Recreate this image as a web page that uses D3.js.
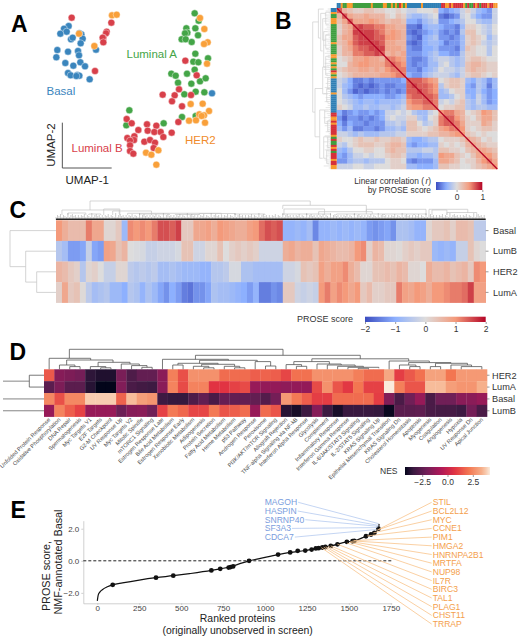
<!DOCTYPE html>
<html>
<head>
<meta charset="utf-8">
<script src="https://cdnjs.cloudflare.com/ajax/libs/d3/7.8.5/d3.min.js"></script>
<style>
  body { margin: 0; background: #fff; }
  text { font-family: "Liberation Sans", Arial, sans-serif; fill: #333; }
</style>
</head>
<body>
<script>
// Panel A: UMAP coordinates
const basalPts = [[2.06,.78],[1.92,.86],[1.81,1.01],[2.0,.95],[2.13,1.18],[2.18,1.13],[2.44,1.03],[2.38,1.0],[2.48,1.16],[2.42,1.3],[1.72,1.5],[2.04,1.55],[2.34,1.53],[2.37,1.66],[1.69,1.72],[1.96,1.89],[2.41,1.87],[2.2,1.97],[2.55,1.99],[2.04,2.19],[2.12,2.26],[2.32,2.25],[2.38,2.27],[2.29,2.28],[2.69,2.38],[2.88,1.49],[6.36,2.8]];
const lumAPts = [[5.84,.4],[5.96,.62],[5.59,.85],[5.86,.85],[5.62,.98],[5.55,1.0],[5.94,1.06],[5.45,1.18],[5.57,1.18],[5.75,1.26],[5.86,1.61],[6.24,1.75],[5.8,1.85],[5.95,1.87],[5.84,2.09],[5.14,2.21],[5.27,2.27],[5.61,2.21],[5.34,2.48],[5.74,2.51],[6.0,2.44],[6.17,2.35],[5.87,2.75],[6.13,2.77],[5.53,2.83],[3.88,3.31],[3.79,3.76],[4.91,3.7],[5.46,3.51],[5.87,3.48]];
const lumBPts = [[2.15,.53],[3.34,.68],[3.2,.95],[3.18,1.0],[3.1,1.13],[3.08,1.13],[3.1,1.27],[2.85,2.13],[5.56,1.82],[5.9,2.26],[5.37,2.68],[5.24,2.86],[4.88,2.84],[5.16,3.04],[5.46,3.19],[5.73,2.85],[5.35,3.66],[5.15,3.98],[3.8,3.57],[3.95,3.7],[4.15,3.9],[4.41,3.73],[4.69,3.77],[4.43,3.92],[4.63,3.96],[4.82,3.96],[4.9,4.11],[3.82,4.14],[4.03,4.09],[4.02,4.2],[3.9,4.22],[3.9,4.36],[4.33,4.25],[4.5,4.2],[4.65,4.28],[4.61,4.44],[3.9,4.53],[4.0,4.61]];
const her2Pts = [[2.37,1.01],[2.83,1.38],[3.36,.46],[3.5,.44],[6.0,.54],[6.13,.87],[6.23,1.27],[6.12,1.32],[6.21,1.91],[5.72,3.12],[6.08,3.11],[6.27,3.33],[5.98,3.43],[6.12,3.46],[6.05,3.48],[5.67,3.62],[5.88,3.61],[6.15,3.68],[4.38,4.58],[4.54,4.64],[4.75,4.51],[4.69,4.94]];

// Panel B: correlation in tenths, lower triangle, one sample block per row
const corrRows = [
  [7],
  [3,7],
  [2,4,7],
  [1,3,4,7],
  [1,3,4,8,8],
  [2,4,4,7,8,8],
  [2,3,5,7,8,8,8],
  [1,3,4,6,7,7,8,8],
  [1,3,3,6,6,7,7,8,7],
  [0,1,2,4,4,5,4,4,3,6],
  [0,0,3,4,5,5,4,4,4,6,7],
  [1,2,3,3,4,4,3,4,3,5,6,6],
  [0,1,2,3,3,3,3,3,4,4,5,6,6],
  [-1,-2,-4,-6,-6,-5,-6,-5,-5,-5,-5,-5,-4,7],
  [-1,-3,-4,-6,-7,-6,-7,-6,-5,-6,-6,-5,-5,7,8],
  [0,-3,-5,-7,-6,-7,-6,-6,-5,-6,-5,-6,-5,7,7,8],
  [0,-2,-3,-4,-5,-4,-4,-4,-4,-5,-5,-4,-3,6,7,7,7],
  [0,-1,-2,-3,-4,-3,-3,-4,-3,-3,-3,-3,-2,5,6,6,7,7],
  [1,0,-1,-3,-3,-2,-3,-3,-2,-2,-3,-2,-1,4,5,5,6,6,6],
  [-4,-6,-5,-4,-5,-5,-4,-5,-4,-1,-1,0,-1,0,-2,-3,-3,-1,0,5],
  [-5,-7,-5,-5,-6,-5,-6,-5,-4,-1,0,-1,-1,1,1,-2,-3,0,1,6,7],
  [-4,-6,-4,-5,-5,-6,-5,-5,-5,-2,-2,-1,-2,2,2,0,-2,-1,1,6,7,7],
  [-3,-5,-3,-6,-6,-5,-5,-6,-5,-3,-3,-2,-3,2,2,1,0,1,2,4,5,6,6],
  [-1,-1,-2,-3,-2,-3,-3,-3,-2,-2,-2,-1,-1,1,1,1,1,2,2,3,3,4,5,5],
  [1,0,0,1,2,1,1,2,1,1,2,2,1,-3,-4,-4,-3,-2,-2,0,1,1,1,2,4],
  [-1,-2,0,1,2,2,2,1,1,2,3,3,2,-4,-5,-4,-4,-3,-3,1,0,1,0,1,3,4],
  [-3,-4,-2,0,0,1,1,0,0,2,3,2,2,-2,-2,-2,-1,-1,-2,2,2,1,1,0,2,3,4],
  [-4,-5,-3,-1,-1,0,-1,0,0,1,2,2,1,-3,-3,-4,-3,-3,-2,5,4,4,2,1,0,2,4,5],
  [-5,-5,-3,-2,-2,-3,-2,-2,-2,0,1,1,0,-5,-6,-5,-5,-5,-3,4,4,3,2,0,1,1,3,5,6],
  [-1,-1,-1,0,0,-1,-1,0,0,0,1,1,1,-3,-3,-4,-4,-4,-3,2,2,1,1,0,0,1,2,3,4,5]
];
const sampleTypes = 'BBOGGOOOGGGGGGGGGOGGGGGOOGGOGOGROGOBBBBBBBOBBBBBBBBBRROORORRRRROGRGGRORGRRRORROOR'.slice(0, 80).split('');
const typeColors = { B: '#2f7fb5', G: '#3f9e3f', R: '#d5303a', O: '#f79a2e' };
// dendrogram links: [posA, posB, height, heightA, heightB]
const corrLinks = [[2.6,19.4,18,12.3,15.7],[.2,5.6,12.3,7,10],[1,8,10,5,8],[2,6,8,3,5],[.8,3,5,0,2],[5,7.5,5,1,2],[4.4,11,7,3,5],[9,12.5,5,1,3],
  [11,16,8,2,3],[13,15,3,0,1],[15,17.5,4,1,2],[15,24,15.7,8,11],[19,28,11,6,8],[19,21.5,6,2,3],[21,23,3,0,1],[24,28,7,3,4],[24,26,3,0,1],[26.5,29,4,1,2]];

// Panel C: PROSE score per protein cluster
const proteomeRows = ['Basal', 'LumB', 'HER2', 'LumA'];
const proseBasal = [1,.7,.5,.5,.5,1.2,.8,.8,.1,.1,.3,-.8,1.1,1,1.1,1,1.2,1.5,1.5,1.4,1.6,.3,.3,.8,.8,.9,.7,1,.9,.8,.7,.7,.9,1,1.3,1.5,1.4,1.5,-.9,-.9,-.8,-.9,-.7,-1.4,-.9,-.9,-.8,-.9,-.8,-.9,-.8,-.9,-1.2,-1.3,-1.2,-1.1,-1.3,-.6,-.6,-.7,-.9,-.9,.1,.3,.3,.4,.2,.5,.5,.4,-.4,-.4];
const proseLumB = [-.5,-.7,-1.2,-1.2,-1.1,-.3,-1.1,-1.2,.9,.8,.4,.6,0,-.05,-.1,-.3,-.3,-.2,-.2,-.2,-.1,.4,.4,-.2,-.2,.1,.1,.4,0,.2,.3,.2,.3,.2,-.2,-.2,-.2,-.2,.7,.8,.6,.7,.7,.4,.8,.7,.6,.5,.5,.6,1,1.1,.2,.6,.5,.1,.1,.05,.2,.3,.2,.3,.3,-.8,-.9,-.8,-.9,-.3,-.3,.4,.1,0];
const proseHer2 = [.6,.5,.3,.2,-.5,.1,.2,0,-.3,-.3,.1,.1,-.4,-.5,-.4,-.5,-.4,-.7,-.7,-.6,-.7,-.8,-.8,-.8,-.9,-.9,-.5,-.5,-.4,-.1,-.1,-.6,-.6,-.7,-.7,-.7,-.7,-.7,-.2,-.2,-.1,.4,.3,.4,.9,.7,.9,.9,1.1,.7,.5,.1,.1,.4,.4,.5,.4,.6,.5,.1,.1,0,.7,.5,.5,.6,.4,.5,.6,.3,1.1,1];
const proseLumA = [.2,.8,.3,.4,.05,-.4,-.7,-.6,-.5,-.8,-.8,-1,-.5,-.6,-.9,-.6,-.8,-1.1,-1.3,-1,-1.2,-1.5,-1.6,-1.3,-1.3,-1.1,-.6,-.7,-.7,-.8,-.9,-1,-1.2,-.9,-1.5,-1.5,-1.3,-1.4,.3,.3,-.2,-.3,-.2,-.3,1,1.2,.9,1.1,1,.8,1,.3,.5,.2,.2,.3,.3,1.2,.9,.8,1,.9,.7,1,1,1.1,1.2,1.2,1.3,1.6,.9,.9];
const proseColLinks = [[5.7,42.6,19,10,14.7],[1,10.6,10,5,6],[8,10.7,11,5,5],[9.5,16,9,5,5],[12,27.7,6.7,5,5],[14,19,6,5,5],[20,24,5.5,5,5],[24,30,6.5,5,5],[30,35,6,5,5],[2,5,7,5,5],[5.5,7.5,6,5,5],
  [38,52,14.7,11,8.3],[38.2,45,11,5,5],[44,53,8.3,5,6],[52,62,10.7,6,5],[62.5,69,10.7,5,7],[63,65.5,10,5,5],[65.5,70.5,7.5,5,5],[38,42,6,5,5],[42,46,6,5,5],[47,50,6,5,5],[50,55,6,5,5],[55,60,6,5,5],[60,62,6,5,5]];
const proseRowLinks = [[2,3,19.3,0,0],[1,2.5,30.3,0,19.3],[0,1.75,46,0,30.3]];
const leafHeights = [3,5,4,6,3,5,4,3,7,3,5,6,4,5,3,5];
const corrLeafHeights = [3,5,2,6,4,3,7,2,5,4,6,3];

// Panel D: NES per hallmark gene set
const hallmarks = ['Unfolded Protein Response','Oxidative Phosphorylation','DNA Repair','Spermatogenesis','Myc Targets V1','E2F Targets','G2-M Checkpoint','UV Response Up','Myc Targets V2','Mitotic Spindle','mTORC1 Signaling','Estrogen Response Late','Bile Acid Metabolism','Estrogen Response Early','Xenobiotic Metabolism','Adipogenesis','Protein Secretion','Fatty Acid Metabolism','Heme Metabolism','p53 Pathway','Androgen Response','Peroxisome','PI3K/AKT/mTOR Signaling','Allograft Rejection','TNF-alpha Signaling via NF-kB','Interferon Alpha Response','Glycolysis','Complement','Inflammatory Response','Interferon Gamma Response','IL-6/JAK/STAT3 Signaling','IL-2/STAT5 Signaling','KRAS Signaling Up','Epithelial Mesenchymal Transition','KRAS Signaling Dn','Cholesterol Homeostasis','Apoptosis','Myogenesis','Coagulation','Angiogenesis','Hypoxia','UV Response Dn','Apical Junction'];
const nesRows = ['HER2', 'LumA', 'Basal', 'LumB'];
const nesHer2 = [1.5,-1.6,-1.8,-2,-3.6,-3.8,-3.8,-1.9,-2.9,-2.4,-2.4,-1.5,2.3,1.3,2.7,2.7,2.7,1.9,1.9,1.9,1.6,1.7,1.6,1.1,2,2,2.7,2.7,2.7,2.7,2.3,1.9,1.9,3.2,.9,1.5,2,3.1,3.1,2.1,2.9,2.9,2.9];
const nesLumA = [-2.6,-1.8,-2.6,-2.6,-3.7,-4.2,-4.2,-1.7,-3,-3.2,-3.3,-1.5,2.4,1.2,2.4,2.4,.7,.7,1,1.2,-1.2,-1.3,-1.3,-1.4,-1.3,-1.3,1.2,2.7,1.4,.8,2.1,1,1,4.2,2.3,1.4,1.4,3.6,3.6,3,2.8,2.8,3.4];
const nesBasal = [2.5,1.3,2.5,2.5,3.8,3.8,3.8,1.7,3.6,3,2.8,-3.3,-3.5,-3.5,-2.9,-2.4,-3,-2.3,-2.4,-2.4,-2.4,-2.8,-2,2.9,2.2,1.6,.9,.9,1.9,1.9,1.9,1.9,.9,-1.7,-3,-2.1,-1.2,-3,-2.1,-2.1,-1.5,-1.5,-1.2];
const nesLumB = [-1.2,2.4,1.6,1,-1.2,-1.2,-1.2,-2.2,-1.6,-1.5,-2.1,1,2.2,1.8,1.1,1.1,2.2,1.4,1.6,1.9,-1.2,1.9,1.4,-3.7,-3.9,-3.3,-1.6,-3.3,-3.9,-3.4,-3.4,-3.4,-3.5,-4.1,-2.6,-2.6,-2.5,-3,-3.1,-3.1,-3.3,-2,-3];
const nesColLinks = [[1.96,22.7,20,11,14],[0,4.03,11,0,9.3],[1.7,6.2,9.3,4.3,7],[1,2.5,4.3,0,2.7],[2,3,2.7,0,0],[4.75,7.85,7,2.7,5.3],[4,5.5,2.7,0,1.5],[5,6,1.5,0,0],[7,8.75,5.3,0,3.7],[8,9.5,3.7,0,2],[9,10,2,0,0],
  [14.2,30.2,14,10,10.5],[11,17.4,10,0,9],[14.6,20.2,9,6,7.7],[12.5,16.4,6,4.3,5],[12,13,4.3,0,0],[14.8,18,5,3,3],[14,15.5,3,0,1.5],[15,16,1.5,0,0],[17,18.5,3,0,1.5],[18,19,1.5,0,0],[20,21.5,7.7,0,3.3],[21,22,3.3,0,0],
  [25.5,34.9,10.5,7.7,8.3],[23.75,27.2,7.7,4.7,5.3],[23,24.5,4.7,0,3],[24,25,3,0,0],[26,28.35,5.3,0,4.3],[27,29.7,4.3,0,3],[28,30.5,3,0,2],[29,32,2,0,1],[30,31,1,0,0],
  [33,36.9,8.3,0,6.7],[34.9,39,6.7,4.3,6],[34,35.6,4.3,0,2.7],[35,36,2.7,0,0],[37.5,40.6,6,2.7,4.3],[37,38,2.7,0,0],[39,41,4.3,0,2.7],[40,42,2.7,0,0]];
const nesRowLinks = [[0,1,14.7,0,0]];

// Panel E: ranked proteins, curve and highlighted hits
const curveRanks  = [0,5,15,30,60,92,150,250,350,453,550,680,733,800,850,905,960,1078,1150,1240,1303,1392,1488,1532,1602,1652,1676,1680];
const curveScores = [-2.5,-2.15,-1.95,-1.8,-1.62,-1.5,-1.38,-1.2,-1.05,-.93,-.8,-.6,-.5,-.36,-.18,0,.12,.39,.52,.64,.77,.93,1.18,1.24,1.53,1.74,2,2.3];
const hitRanks  = [92,350,453,680,733,783,795,810,905,1078,1150,1195,1240,1278,1303,1320,1342,1360,1392,1432,1488,1522,1532,1602,1632,1652,1676];
const hitScores = [-1.5,-1.05,-.93,-.6,-.5,-.42,-.39,-.35,0,.39,.52,.62,.64,.7,.77,.79,.83,.86,.93,1.03,1.18,1.22,1.24,1.53,1.64,1.74,2];
const blueGenes  = ['MAGOH','HASPIN','SNRNP40','SF3A3','CDCA7'];
const blueRanks  = [1676,1676,1676,1670,1664];
const blueScores = [2.32,2.21,2.15,2.07,1.95];
const orangeGenes  = ['STIL','BCL2L12','MYC','CCNE1','PIM1','HMGA2','HNRNPA2B1','MRTFA','NUP98','IL7R','BIRC3','TAL1','PLAG1','CHST11','TRRAP'];
const orangeRanks  = [1676,1666,1646,1610,1530,1522,1510,1506,1490,1432,1392,1376,1362,1350,1336];
const orangeScores = [1.95,1.9,1.74,1.55,1.26,1.24,1.2,1.16,1.1,1.03,.93,.9,.87,.85,.82];

const svg = d3.select('body').append('svg').attr('width', 520).attr('height', 639);
const defs = svg.append('defs');

// colour maps
const corrColor = d3.scaleLinear().domain([-.8,-.4,0,.5,1]).range(['#3b4cc0','#8db0fe','#dddcdc','#f49a7b','#b40426']);
const proseColor = d3.scaleLinear().domain([-2,-1,0,1,2]).range(['#3b4cc0','#8db0fe','#dddcdc','#f49a7b','#b40426']);
const rocketStops = ['#03051a','#35193e','#701f57','#ad1759','#e13342','#f37651','#f6b48f','#faebdd'];
const nesColor = d3.scaleLinear().domain([-4.2,-3.5,-2.1,-.7,.7,2.1,3.5,4.2]).range(rocketStops);

function panelLetter(s, x, y) {
  svg.append('text').attr('x', x).attr('y', y).text(s)
    .style('font-size', '23px').style('font-weight', 'bold').style('fill', '#000');
}

function label(s, x, y, size, color, anchor) {
  return svg.append('text').attr('x', x).attr('y', y).text(s)
    .style('font-size', size + 'px').style('fill', color || '#333').attr('text-anchor', anchor || 'start');
}

// draws dendrogram links, pos and depth are scales
function drawLinks(links, pos, depth, sideways, color, lineWidth) {
  svg.append('g').selectAll('path').data(links).join('path')
    .attr('fill', 'none').attr('stroke', color).attr('stroke-width', lineWidth)
    .attr('d', function (d) {
      let pts = [[pos(d[0]), depth(d[3])], [pos(d[0]), depth(d[2])], [pos(d[1]), depth(d[2])], [pos(d[1]), depth(d[4])]];
      if (sideways) pts = pts.map(function (p) { return [p[1], p[0]]; });
      return d3.line()(pts);
    });
}

function colorbar(id, x, y, w, h, color, domain, ticks, fmt) {
  const scale = d3.scaleLinear().domain(domain).range([x, x + w]);
  const grad = defs.append('linearGradient').attr('id', id);
  d3.range(0, 1.001, .05).forEach(function (t) {
    grad.append('stop').attr('offset', t).attr('stop-color', color(domain[0] + t * (domain[1] - domain[0])));
  });
  svg.append('rect').attr('x', x).attr('y', y).attr('width', w).attr('height', h).attr('fill', 'url(#' + id + ')');
  const axis = svg.append('g').attr('transform', 'translate(0,' + (y + h) + ')')
    .call(d3.axisBottom(scale).tickValues(ticks).tickFormat(fmt).tickSize(2).tickPadding(1.5));
  axis.select('.domain').remove();
  axis.selectAll('line').attr('stroke', '#555').attr('stroke-width', .6);
  axis.selectAll('text').style('font-size', '8.5px').style('font-family', '"Liberation Sans", Arial, sans-serif').style('fill', '#333');
}

// ---------- A
panelLetter('A', 11, 32);
const umapX = d3.scaleLinear().domain([0, 7.8]).range([0, 260]);
const umapY = d3.scaleLinear().domain([0, 5.7]).range([0, 190]);
[[basalPts, '#3a85bd'], [lumAPts, '#44a547'], [lumBPts, '#d8404a'], [her2Pts, '#f9a03a']].forEach(function (s) {
  svg.append('g').selectAll('circle').data(s[0]).join('circle')
    .attr('cx', function (d) { return umapX(d[0]); })
    .attr('cy', function (d) { return umapY(d[1]); })
    .attr('r', 3.5).attr('fill', s[1]).attr('stroke', '#fff').attr('stroke-width', .4);
});
label('Basal', 46.5, 95, 11.5, '#3a85bd');
label('Luminal A', 126.5, 57.5, 11.5, '#44a547');
label('HER2', 185, 144, 11.5, '#f08c2c');
label('Luminal B', 71.5, 152, 11.5, '#d8404a');
label('UMAP-1', 65.5, 184, 11.5, '#222');
svg.append('text').attr('transform', 'translate(54.5,145) rotate(-90)').attr('text-anchor', 'middle')
  .text('UMAP-2').style('font-size', '11.5px').style('fill', '#222');
svg.append('path').attr('d', d3.line()([[umapX(1.87), umapY(3.68)], [umapX(1.87), umapY(5.04)], [umapX(3.35), umapY(5.04)]]))
  .attr('fill', 'none').attr('stroke', '#555').attr('stroke-width', 1);

// ---------- B
panelLetter('B', 275, 28.5);
const corrIdx = d3.range(corrRows.length);
const corrX = d3.scaleBand().domain(corrIdx).range([336.7, 497.3]);
const corrY = d3.scaleBand().domain(corrIdx).range([8, 169]);
const corrCells = [];
corrIdx.forEach(function (i) {
  corrIdx.forEach(function (j) {
    corrCells.push({ i: i, j: j, v: (i >= j ? corrRows[i][j] : corrRows[j][i]) / 10 });
  });
});
svg.append('g').selectAll('rect').data(corrCells).join('rect')
  .attr('x', function (d) { return corrX(d.j); })
  .attr('y', function (d) { return corrY(d.i); })
  .attr('width', corrX.bandwidth() + .3).attr('height', corrY.bandwidth() + .3)
  .attr('fill', function (d) { return corrColor(d.v); });
// r = 1 on the diagonal
svg.append('line')
  .attr('x1', corrX.range()[0]).attr('y1', corrY.range()[0])
  .attr('x2', corrX.range()[1]).attr('y2', corrY.range()[1])
  .attr('stroke', corrColor(1)).attr('stroke-width', 1.3);
const typeIdx = d3.range(sampleTypes.length);
const typeX = d3.scaleBand().domain(typeIdx).range([336.7, 497.3]);
const typeY = d3.scaleBand().domain(typeIdx).range([8, 169]);
svg.append('g').selectAll('rect').data(typeIdx).join('rect')
  .attr('x', function (d) { return typeX(d); }).attr('y', 3)
  .attr('width', typeX.bandwidth() + .2).attr('height', 5)
  .attr('fill', function (d) { return typeColors[sampleTypes[d]]; });
svg.append('g').selectAll('rect').data(typeIdx).join('rect')
  .attr('x', 330.7).attr('y', function (d) { return typeY(d); })
  .attr('width', 6).attr('height', typeY.bandwidth() + .2)
  .attr('fill', function (d) { return typeColors[sampleTypes[d]]; });
const corrDepth = d3.scaleLinear().domain([0, 18]).range([330.7, 312.7]);
drawLinks(corrLinks, d3.scaleLinear().domain([0, 30]).range([8, 169]), corrDepth, true, '#cfcfcf', .7);
svg.append('g').selectAll('line').data(typeIdx).join('line')
  .attr('x1', corrDepth(0)).attr('y1', function (d) { return typeY(d) + 1; })
  .attr('x2', function (d, i) { return corrDepth(corrLeafHeights[i % corrLeafHeights.length]); }).attr('y2', function (d) { return typeY(d) + 1; })
  .attr('stroke', '#d4d4d4').attr('stroke-width', .6);
label('Linear correlation (', 431, 184, 8.4, '#333', 'end').attr('dx', -7)
label('r', 431, 184, 8.4, '#333', 'end').attr('dx', -2.6).style('font-style', 'italic');
label(')', 431, 184, 8.4, '#333', 'end');
label('by PROSE score', 431, 192.5, 8.4, '#333', 'end');
colorbar('corrGrad', 436, 182, 46.3, 8, corrColor, [-.8, 1], [0, 1], d3.format('d'));

// ---------- C
panelLetter('C', 9.5, 218);
const proseValues = [proseBasal, proseLumB, proseHer2, proseLumA];
const proseX = d3.scaleBand().domain(d3.range(proseBasal.length)).range([56, 485.7]);
const proseY = d3.scaleBand().domain(proteomeRows).range([220.3, 302.7]);
proseValues.forEach(function (vals, r) {
  svg.append('g').selectAll('rect').data(vals).join('rect')
    .attr('x', function (d, i) { return proseX(i); })
    .attr('y', proseY(proteomeRows[r]))
    .attr('width', proseX.bandwidth() + .3).attr('height', proseY.bandwidth() + .2)
    .attr('fill', function (d) { return proseColor(d); });
});
const proseCol = d3.scaleLinear().domain([0, proseBasal.length]).range([56, 485.7]);
const proseHeight = d3.scaleLinear().domain([0, 20]).range([220, 200]);
drawLinks(proseColLinks, proseCol, proseHeight, false, '#c4c4c4', .7);
// fine leaf brackets along the top of the heatmap
const leafIdx = d3.range(0, proseBasal.length, .25);
svg.append('g').selectAll('line').data(leafIdx).join('line')
  .attr('x1', function (d) { return proseCol(d); }).attr('x2', function (d) { return proseCol(d); })
  .attr('y1', proseHeight(0)).attr('y2', function (d, i) { return proseHeight(leafHeights[i % leafHeights.length]); })
  .attr('stroke', '#999').attr('stroke-width', .5);
svg.append('line').attr('x1', 56).attr('x2', 485.7).attr('y1', 219.2).attr('y2', 219.2).attr('stroke', '#222').attr('stroke-width', 1.6);
drawLinks(proseRowLinks, d3.scaleLinear().domain([-.5, 3.5]).range([220.3, 302.7]), d3.scaleLinear().domain([0, 46]).range([56, 10]), true, '#c8c8c8', .8);
proteomeRows.forEach(function (r) {
  const yMid = proseY(r) + proseY.bandwidth() / 2;
  svg.append('line').attr('x1', 485.7).attr('x2', 488.5).attr('y1', yMid).attr('y2', yMid).attr('stroke', '#555').attr('stroke-width', .6);
  label(r, 493, yMid + 3.2, 9.2, '#333');
});
label('PROSE score', 297, 322, 9, '#333');
colorbar('proseGrad', 365, 316.7, 120.7, 5.3, proseColor, [-2, 2], [-2, -1, 0, 1, 2], d3.format('d'));

// ---------- D
panelLetter('D', 9.5, 360);
const nesValues = [nesHer2, nesLumA, nesBasal, nesLumB];
const nesX = d3.scaleBand().domain(hallmarks).range([44, 487]);
const nesY = d3.scaleBand().domain(nesRows).range([369.3, 416.7]);
nesValues.forEach(function (vals, r) {
  svg.append('g').selectAll('rect').data(vals).join('rect')
    .attr('x', function (d, i) { return nesX(hallmarks[i]); })
    .attr('y', nesY(nesRows[r]))
    .attr('width', nesX.bandwidth() + .3).attr('height', nesY.bandwidth() + .2)
    .attr('fill', function (d) { return nesColor(d); });
});
const nesCol = d3.scaleLinear().domain([-.5, hallmarks.length - .5]).range([44, 487]);
drawLinks(nesColLinks, nesCol, d3.scaleLinear().domain([0, 20]).range([369.3, 349.3]), false, '#555', .8);
nesRows.forEach(function (r) {
  const yMid = nesY(r) + nesY.bandwidth() / 2;
  svg.append('line').attr('x1', 487).attr('x2', 489.5).attr('y1', yMid).attr('y2', yMid).attr('stroke', '#555').attr('stroke-width', .6);
  label(r, 492, yMid + 3.3, 9.2, '#333');
});
// row dendrogram is cut off at the left edge of the panel
const nesRowPos = d3.scaleLinear().domain([-.5, 3.5]).range([369.3, 416.7]);
const nesRowDepth = d3.scaleLinear().domain([0, 41]).range([44, 3]);
drawLinks(nesRowLinks, nesRowPos, nesRowDepth, true, '#555', .8);
svg.append('g').selectAll('line').data([.5, 2, 3]).join('line')
  .attr('x1', nesRowDepth(41)).attr('y1', function (d) { return nesRowPos(d); })
  .attr('x2', function (d) { return d === .5 ? nesRowDepth(14.7) : nesRowDepth(0); }).attr('y2', function (d) { return nesRowPos(d); })
  .attr('stroke', '#666').attr('stroke-width', .8);
svg.append('g').selectAll('text').data(hallmarks).join('text')
  .attr('transform', function (d) { return 'translate(' + (nesX(d) + nesX.bandwidth() / 2 + 1.5) + ',420) rotate(-45)'; })
  .attr('text-anchor', 'end').text(function (d) { return d; })
  .style('font-size', '5.6px').style('fill', '#444');
label('NES', 380, 473.5, 8.5, '#333');
colorbar('nesGrad', 405, 467, 85, 8, nesColor, [-4.2, 4.2], [-2.5, 0, 2.5], d3.format('.1f'));

// ---------- E
panelLetter('E', 10.5, 518);
const rankX = d3.scaleLinear().domain([-83.5, 1756]).range([83.3, 391.8]);
const scoreY = d3.scaleLinear().domain([-2.65, 2.5]).range([603.3, 520.7]);
const xAxisG = svg.append('g').attr('transform', 'translate(0,603.3)')
  .call(d3.axisBottom(rankX).tickValues([0, 250, 500, 750, 1000, 1250, 1500, 1750]).tickFormat(d3.format('d')).tickSize(1.5).tickPadding(1).tickSizeOuter(0));
const yAxisG = svg.append('g').attr('transform', 'translate(83.3,0)')
  .call(d3.axisLeft(scoreY).tickValues([-2, 0, 2]).tickSize(2).tickPadding(2).tickSizeOuter(0));
[xAxisG, yAxisG].forEach(function (a) {
  a.selectAll('path,line').attr('stroke', '#bbb').attr('stroke-width', .7);
  a.selectAll('text').style('font-size', '8px').style('font-family', '"Liberation Sans", Arial, sans-serif').style('fill', '#444');
});
svg.append('line').attr('x1', rankX.range()[0]).attr('x2', rankX.range()[1]).attr('y1', scoreY(0)).attr('y2', scoreY(0))
  .attr('stroke', '#222').attr('stroke-width', 1).attr('stroke-dasharray', '3,2');
const curveLine = d3.line()
  .x(function (d) { return rankX(d); })
  .y(function (d, i) { return scoreY(curveScores[i]); })
  .curve(d3.curveMonotoneX);
svg.append('path').attr('d', curveLine(curveRanks)).attr('fill', 'none').attr('stroke', '#111').attr('stroke-width', 1.2);
svg.append('g').selectAll('circle').data(hitRanks).join('circle')
  .attr('cx', function (d) { return rankX(d); })
  .attr('cy', function (d, i) { return scoreY(hitScores[i]); })
  .attr('r', 2.4).attr('fill', '#111');

function geneLabels(genes, ranks, scores, x, anchor, lineColor, textColor) {
  const g = svg.append('g');
  const rowY = d3.scaleLinear().domain([0, 1]).range([502.3, 511]);
  genes.forEach(function (name, i) {
    const t = g.append('text').attr('x', x).attr('y', rowY(i) + 3).text(name)
      .style('font-size', '8.6px').style('fill', textColor);
    const edge = anchor === 'left' ? x + t.node().getComputedTextLength() + 1 : x - 1;
    g.append('line').attr('x1', edge).attr('y1', rowY(i))
      .attr('x2', rankX(ranks[i])).attr('y2', scoreY(scores[i]))
      .attr('stroke', lineColor).attr('stroke-width', .8);
  });
}
geneLabels(blueGenes, blueRanks, blueScores, 264.7, 'left', '#b5caf0', '#7a9ddd');
geneLabels(orangeGenes, orangeRanks, orangeScores, 432.7, 'right', '#f9c48c', '#f4a04c');

label('Ranked proteins', 237.7, 622, 10.4, '#222', 'middle');
label('(originally unobserved in screen)', 237.7, 633.5, 10.4, '#222', 'middle');
svg.append('text').attr('transform', 'translate(50,576) rotate(-90)').attr('text-anchor', 'middle')
  .text('PROSE score,').style('font-size', '10.8px').style('fill', '#222');
svg.append('text').attr('transform', 'translate(62,562) rotate(-90)').attr('text-anchor', 'middle')
  .text('NMF-annotated Basal').style('font-size', '10.8px').style('fill', '#222');
</script>
</body>
</html>
